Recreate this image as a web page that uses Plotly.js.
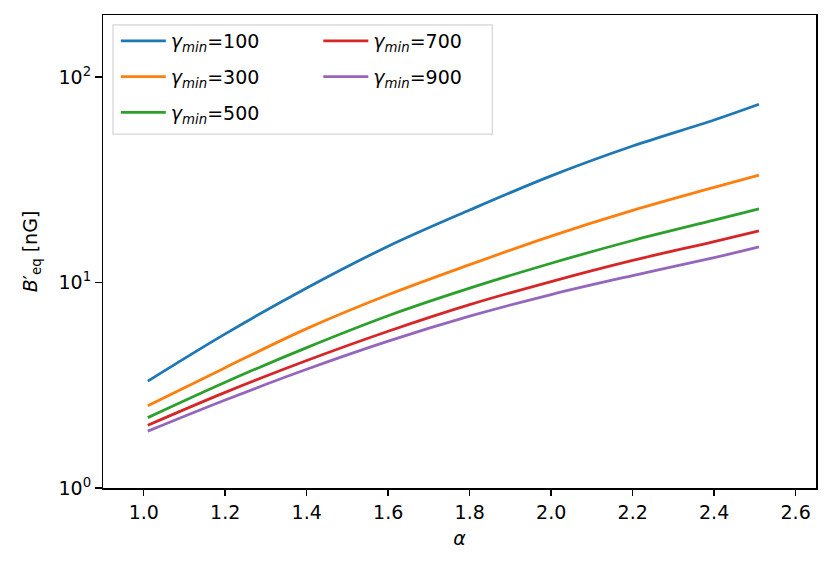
<!DOCTYPE html>
<html>
<head>
<meta charset="utf-8">
<script src="https://cdn.plot.ly/plotly-3.0.1.min.js"></script>
<style>html,body{margin:0;padding:0;background:#fff;}#chart{width:831px;height:568px;}</style>
</head>
<body>
<div id="chart"></div>
<script>
const alpha = [1.01, 1.2, 1.4, 1.6, 1.8, 2.0, 2.2, 2.4, 2.51];
const gamma100 = [3.31, 5.62, 9.40, 15.0, 22.5, 33.0, 46.1, 61.7, 73.6];
const gamma300 = [2.51, 3.85, 5.96, 8.71, 12.2, 16.8, 22.4, 29.0, 33.3];
const gamma500 = [2.20, 3.27, 4.82, 6.89, 9.38, 12.4, 16.0, 20.1, 22.8];
const gamma700 = [2.02, 2.92, 4.17, 5.79, 7.80, 10.1, 12.8, 15.8, 17.8];
const gamma900 = [1.89, 2.68, 3.78, 5.18, 6.85, 8.73, 10.8, 13.2, 14.9];
const seriesNames = ['100', '300', '500', '700', '900'];
const yMajorVals = [1, 10, 100];
const yMajorText = ['10<sup>0</sup>', '10<sup>1</sup>', '10<sup>2</sup>'];
const yMinorVals = [2, 3, 4, 5, 6, 7, 8, 9, 20, 30, 40, 50, 60, 70, 80, 90, 200];
const xTickVals = [1.0, 1.2, 1.4, 1.6, 1.8, 2.0, 2.2, 2.4, 2.6];

const series = [gamma100, gamma300, gamma500, gamma700, gamma900];
const colors = ['#1f77b4', '#ff7f0e', '#2ca02c', '#d62728', '#9467bd'];
const font = 'DejaVu Sans, sans-serif';
const xRange = [0.9, 2.65];
const yRange = [0, Math.log10(200)];

const margin = {l: 103, r: 15.3, t: 15, b: 80.3};
const plotW = 831 - margin.l - margin.r;
const pxPerX = plotW / (xRange[1] - xRange[0]);
const minorLenPx = 4;

const traces = series.map((ys, i) => ({
  x: alpha, y: ys, type: 'scatter', mode: 'lines',
  line: {color: colors[i], width: 2.8, shape: 'spline', smoothing: 1},
  name: '<i>γ</i><sub><i>min</i></sub>=' + seriesNames[i],
  legend: i < 3 ? 'legend' : 'legend2',
  legendgroup: 'g' + i
}));

// minor ticks of the log y-axis, drawn as short horizontal markers just outside the left spine
traces.push({
  x: yMinorVals.map(() => xRange[0] - (minorLenPx / 2) / pxPerX),
  y: yMinorVals,
  type: 'scatter', mode: 'markers', cliponaxis: false,
  marker: {symbol: 'line-ew', size: minorLenPx, color: '#000', line: {color: '#000', width: 1.2}},
  showlegend: false, hoverinfo: 'skip'
});

const legendCommon = {
  bgcolor: 'rgba(0,0,0,0)', borderwidth: 0,
  font: {family: font, size: 19, color: '#000'},
  itemwidth: 45, tracegroupgap: 8,
  xanchor: 'left', yanchor: 'top', xref: 'paper', yref: 'paper'
};

const layout = {
  width: 831, height: 568,
  margin: margin,
  paper_bgcolor: '#fff', plot_bgcolor: '#fff',
  font: {family: font, size: 19, color: '#000'},
  showlegend: true,
  legend: Object.assign({}, legendCommon, {x: 0.018, y: 0.985}),
  legend2: Object.assign({}, legendCommon, {x: 0.302, y: 0.985}),
  xaxis: {
    range: xRange, autorange: false, tickvals: xTickVals, ticktext: xTickVals.map(v => v.toFixed(1)),
    ticks: 'outside', ticklen: 6.5, tickwidth: 1.5, tickcolor: '#000',
    showline: true, linecolor: '#000', linewidth: 1.5, mirror: true,
    showgrid: false, zeroline: false,
    tickfont: {family: font, size: 19},
    title: {text: '<i>α</i>', font: {family: font, size: 19}, standoff: 10}
  },
  yaxis: {
    type: 'log', range: yRange, autorange: false,
    tickmode: 'array', tickvals: yMajorVals, ticktext: yMajorText,
    ticks: 'outside', ticklen: 6.5, tickwidth: 1.5, tickcolor: '#000',
    showline: true, linecolor: '#000', linewidth: 1.5, mirror: true,
    showgrid: false, zeroline: false,
    tickfont: {family: font, size: 19},
    title: {text: '<i>B</i>′<sub>eq</sub> [nG]', font: {family: font, size: 19}, standoff: 16}
  },
  shapes: [{
    type: 'rect', xref: 'paper', yref: 'paper',
    x0: 0.014, x1: 0.546, y0: 0.748, y1: 0.979,
    line: {color: '#d5d5d5', width: 1.2}, fillcolor: 'rgba(255,255,255,0.8)', layer: 'above'
  }]
};

Plotly.newPlot('chart', traces, layout, {displayModeBar: false, staticPlot: true});
</script>
</body>
</html>
